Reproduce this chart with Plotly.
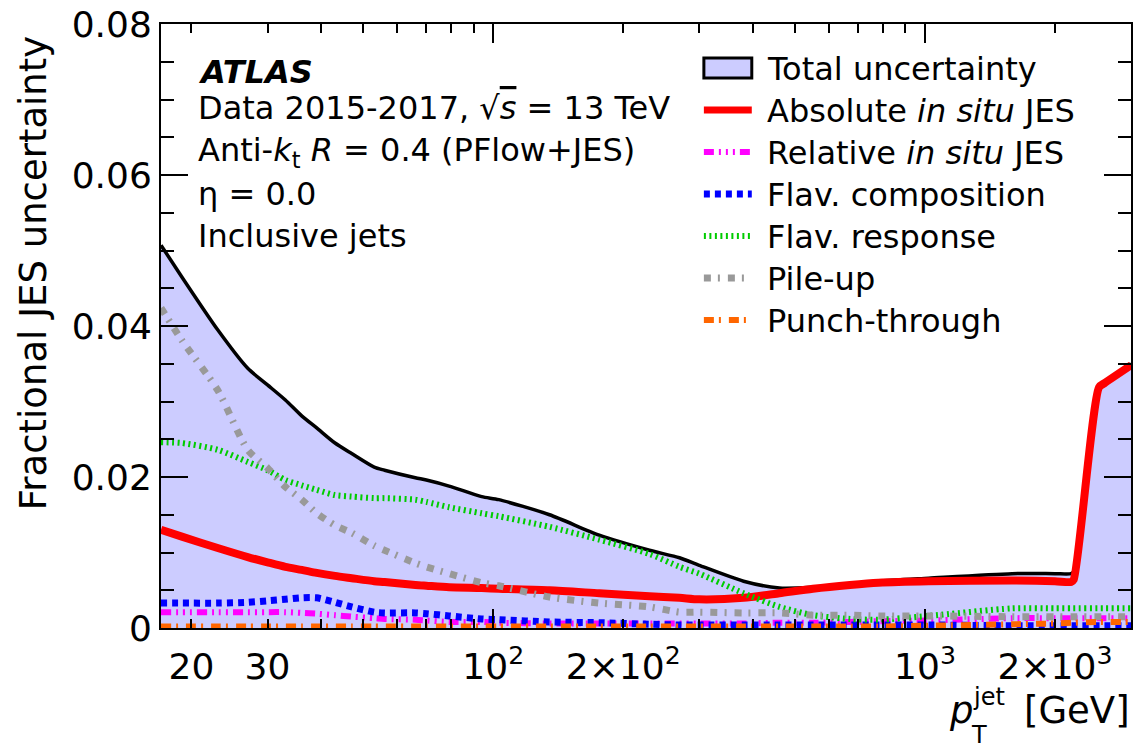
import numpy as np
import plotly.graph_objects as go

# ---------------- data ----------------
pt = [17, 19, 23, 27, 30, 33, 36, 39, 43, 47, 53, 56, 66, 70, 79, 94, 103, 135,
      176, 230, 270, 300, 380, 460, 550, 670, 780, 1020, 1590, 2000, 2180, 2210,
      2530, 2600, 3000]

total = [0.0507, 0.0465, 0.0395, 0.0344, 0.0322, 0.0302, 0.0281, 0.0265, 0.0245,
         0.0231, 0.0213, 0.0209, 0.0199, 0.0196, 0.0188, 0.0174, 0.0170, 0.0150,
         0.0123, 0.0103, 0.0093, 0.0083, 0.0062, 0.0053, 0.0054, 0.0058, 0.0062,
         0.0066, 0.0072, 0.0072, 0.0072, 0.0075, 0.0322, 0.0326, 0.0350]

absolute = [0.0130, 0.0121, 0.0106, 0.0094, 0.0087, 0.0081, 0.0077, 0.0073, 0.0069,
            0.0066, 0.0062, 0.0061, 0.0057, 0.0056, 0.0054, 0.0053, 0.0052, 0.0050,
            0.0046, 0.0042, 0.0040, 0.0038, 0.0040, 0.0046, 0.0052, 0.0057, 0.0060,
            0.0062, 0.0063, 0.0062, 0.0061, 0.0064, 0.0319, 0.0324, 0.0348]

relative = [0.0021, 0.0021, 0.0021, 0.0021, 0.0021, 0.0021, 0.0020, 0.0019, 0.0017,
            0.0015, 0.0013, 0.0012, 0.0011, 0.0010, 0.0008, 0.0008, 0.0007, 0.0006,
            0.0006, 0.0006, 0.0006, 0.0006, 0.0006, 0.0007, 0.0007, 0.0008, 0.0009,
            0.0010, 0.0013, 0.0013, 0.0013, 0.0013, 0.0013, 0.0013, 0.0013]

composition = [0.0033, 0.0033, 0.0033, 0.0034, 0.0036, 0.0038, 0.0040, 0.0040, 0.0034,
               0.0028, 0.0021, 0.0020, 0.0020, 0.0019, 0.0016, 0.0012, 0.0011, 0.0008,
               0.0007, 0.0005, 0.0004, 0.0004, 0.0004, 0.0004, 0.0004, 0.0004, 0.0004,
               0.0004, 0.0003, 0.0003, 0.0003, 0.0003, 0.0003, 0.0003, 0.0003]

response = [0.0246, 0.0245, 0.0236, 0.0220, 0.0209, 0.0196, 0.0189, 0.0183, 0.0176,
            0.0174, 0.0172, 0.0172, 0.0170, 0.0167, 0.0160, 0.0152, 0.0148, 0.0134,
            0.0117, 0.0098, 0.0081, 0.0072, 0.0046, 0.0028, 0.0017, 0.0012, 0.0011,
            0.0016, 0.0026, 0.0026, 0.0026, 0.0026, 0.0026, 0.0026, 0.0026]

pileup = [0.0424, 0.0381, 0.0315, 0.0236, 0.0212, 0.0187, 0.0170, 0.0152, 0.0136,
          0.0126, 0.0109, 0.0103, 0.0086, 0.0081, 0.0072, 0.0060, 0.0056, 0.0041,
          0.0033, 0.0028, 0.0021, 0.0021, 0.0020, 0.0020, 0.0017, 0.0017, 0.0016,
          0.0016, 0.0015, 0.0015, 0.0015, 0.0015, 0.0015, 0.0015, 0.0015]

punch = [0.0002, 0.0002, 0.0002, 0.0002, 0.0002, 0.0002, 0.0002, 0.0002, 0.0002,
         0.0002, 0.0002, 0.0002, 0.0002, 0.0002, 0.0002, 0.0002, 0.0002, 0.0002,
         0.0002, 0.0002, 0.0002, 0.0002, 0.0002, 0.0002, 0.0002, 0.0002, 0.0002,
         0.0003, 0.0005, 0.0006, 0.0007, 0.0007, 0.0008, 0.0008, 0.0008]

x_range = [17, 3000]
y_range = [0, 0.08]
xtick_vals = [20, 30, 100, 200, 1000, 2000]
xtick_text = ["20", "30", "10<sup>2</sup>", "2×10<sup>2</sup>", "10<sup>3</sup>", "2×10<sup>3</sup>"]
xminor_vals = [40, 50, 60, 70, 80, 90, 300, 400, 500, 600, 700, 800, 900]
xmajor_long = [100, 1000]
ytick_vals = [0, 0.02, 0.04, 0.06, 0.08]
ytick_text = ["0", "0.02", "0.04", "0.06", "0.08"]

labels = ["Total uncertainty", "Absolute <i>in situ</i> JES", "Relative <i>in situ</i> JES",
          "Flav. composition", "Flav. response", "Pile-up", "Punch-through"]

# ---------------- styles ----------------
FILL = "#ccccff"
styles = [
    dict(color="black", width=3.5, dash="solid"),
    dict(color="#ff0000", width=8, dash="solid"),
    dict(color="#ff00ff", width=6, dash="10px,5px,2px,5px,2px,5px,2px,5px"),
    dict(color="#0000ff", width=7, dash="6px,5px"),
    dict(color="#00cc00", width=6, dash="2px,3.5px"),
    dict(color="#999999", width=7, dash="7px,7px,2px,8px"),
    dict(color="#ff6600", width=6, dash="10px,5px,2px,8px"),
]
series = [total, absolute, relative, composition, response, pileup, punch]

FONT = "DejaVu Sans"
SMOOTH = 0.7
fig = go.Figure()

# total band
fig.add_trace(go.Scatter(x=pt, y=total, mode="lines", fill="tozeroy", fillcolor=FILL,
                         line=dict(color=styles[0]["color"], width=styles[0]["width"],
                                   shape="spline", smoothing=SMOOTH),
                         name=labels[0], hoverinfo="skip"))
for name, vals, st in zip(labels[1:], series[1:], styles[1:]):
    fig.add_trace(go.Scatter(x=pt, y=vals, mode="lines", name=name,
                             line=dict(color=st["color"], width=st["width"], dash=st["dash"],
                                       shape="spline", smoothing=SMOOTH)))

# invisible trace on the overlay axis that carries the long decade ticks
fig.add_trace(go.Scatter(x=pt, y=total, mode="lines", xaxis="x2", opacity=0,
                         line=dict(width=0), hoverinfo="skip", showlegend=False))

# ---------------- pixel helpers for layout placement ----------------
L, R, T, B = 161, 4, 24, 123
W, H = 1137, 751
PW, PH = W - L - R, H - T - B


def px(xp):
    return (xp - L) / PW


def py(yp):
    return (H - B - yp) / PH


annotations = []
shapes = []

# info text block
info = ["<b><i>ATLAS</i></b>",
        "Data 2015-2017, √<span style='text-decoration:overline'><i>s</i></span> = 13 TeV",
        "Anti-<i>k</i><sub>t</sub> <i>R</i> = 0.4 (PFlow+JES)",
        "η = 0.0",
        "Inclusive jets"]
info_y = [72, 108, 152, 194, 236]
for txt, yy in zip(info, info_y):
    annotations.append(dict(text=txt, x=px(196), y=py(yy), xref="paper", yref="paper",
                            xanchor="left", yanchor="middle", showarrow=False,
                            font=dict(family=FONT, size=32, color="black")))

# legend (drawn by hand to reproduce the boxed band swatch)
leg_x0, leg_x1, leg_tx = 705, 753, 766
leg_y0, leg_dy = 68, 42
for i, (name, st) in enumerate(zip(labels, styles)):
    yc = leg_y0 + i * leg_dy
    if i == 0:
        shapes.append(dict(type="rect", xref="paper", yref="paper",
                           x0=px(leg_x0), x1=px(leg_x1), y0=py(yc - 10), y1=py(yc + 10),
                           fillcolor=FILL, line=dict(color="black", width=3)))
    else:
        shapes.append(dict(type="line", xref="paper", yref="paper",
                           x0=px(leg_x0), x1=px(leg_x1), y0=py(yc), y1=py(yc),
                           line=dict(color=st["color"], width=min(st["width"], 7), dash=st["dash"])))
    annotations.append(dict(text=name, x=px(leg_tx), y=py(yc + 1), xref="paper", yref="paper",
                            xanchor="left", yanchor="middle", showarrow=False,
                            font=dict(family=FONT, size=32, color="black")))

# y axis title (top aligned like ROOT)
annotations.append(dict(text="Fractional JES uncertainty", textangle=-90,
                        x=px(33), y=py(34), xref="paper", yref="paper",
                        xanchor="center", yanchor="top", showarrow=False,
                        font=dict(family=FONT, size=37, color="black")))

# x axis title pieces: p_T^jet [GeV]
annotations.append(dict(text="[GeV]", x=px(1134), y=py(710), xref="paper", yref="paper",
                        xanchor="right", yanchor="middle", showarrow=False,
                        font=dict(family=FONT, size=37, color="black")))
annotations.append(dict(text="<i>p</i>", x=px(963), y=py(710), xref="paper", yref="paper",
                        xanchor="center", yanchor="middle", showarrow=False,
                        font=dict(family=FONT, size=37, color="black")))
annotations.append(dict(text="jet", x=px(991), y=py(697), xref="paper", yref="paper",
                        xanchor="center", yanchor="middle", showarrow=False,
                        font=dict(family=FONT, size=24, color="black")))
annotations.append(dict(text="T", x=px(981), y=py(735), xref="paper", yref="paper",
                        xanchor="center", yanchor="middle", showarrow=False,
                        font=dict(family=FONT, size=24, color="black")))

logr = [float(np.log10(x_range[0])), float(np.log10(x_range[1]))]
axis_common = dict(showgrid=False, zeroline=False, showline=True, linecolor="black",
                   linewidth=2, mirror="ticks", ticks="inside", tickcolor="black")

fig.update_layout(
    width=W, height=H,
    margin=dict(l=L, r=R, t=T, b=B),
    plot_bgcolor="white", paper_bgcolor="white",
    showlegend=False,
    font=dict(family=FONT, color="black"),
    xaxis=dict(type="log", range=logr, tickmode="array", tickvals=xtick_vals,
               ticktext=xtick_text, ticklen=9, tickwidth=2,
               tickfont=dict(family=FONT, size=36), ticklabelstandoff=6,
               minor=dict(tickmode="array", tickvals=xminor_vals, ticks="inside",
                          ticklen=9, tickwidth=2, tickcolor="black", showgrid=False),
               **axis_common),
    xaxis2=dict(type="log", range=logr, overlaying="x", anchor="y", tickmode="array",
                tickvals=xmajor_long, ticklen=19, tickwidth=2, showticklabels=False,
                **axis_common),
    yaxis=dict(range=y_range, tickmode="array", tickvals=ytick_vals, ticktext=ytick_text,
               ticklen=27, tickwidth=2, tickfont=dict(family=FONT, size=36),
               minor=dict(dtick=0.005, ticks="inside", ticklen=13, tickwidth=2,
                          tickcolor="black", showgrid=False),
               **axis_common),
    annotations=annotations,
    shapes=shapes,
)

fig.write_html("out.html")
